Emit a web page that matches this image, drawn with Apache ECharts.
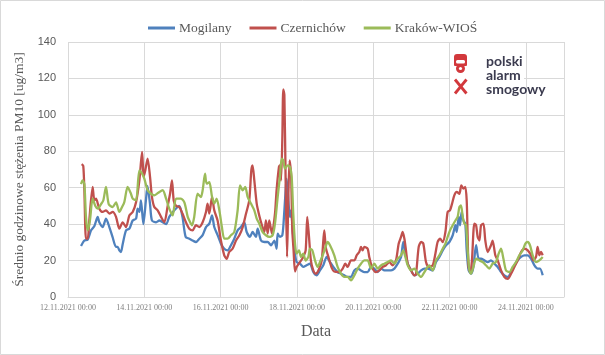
<!DOCTYPE html>
<html>
<head>
<meta charset="utf-8">
<script src="https://cdn.jsdelivr.net/npm/echarts@6/dist/echarts.min.js"></script>
<style>html,body{margin:0;padding:0;background:#fff}#c{width:605px;height:355px}</style>
</head>
<body>
<div id="c"></div>
<script>
// hours since 12.11.2021 00:00
const mogHours = [8.2,10.3,12.4,14.5,16.6,18.7,19.7,21.8,23.9,26,28,30.2,31.2,32.3,33.3,34.4,36.5,38.6,40.7,42.8,43.8,44.9,45.9,47.4,49,50,51.6,52.8,55.4,57.5,61.7,63.7,66.9,70,72,74,76.3,78.4,80.5,82.6,84.7,86.8,88.9,90.6,92,94.1,96.2,98.3,100.4,102.5,104.6,106.7,108.8,110.9,112.4,114.5,116.1,118.2,119.3,121.4,123.5,125.6,127.7,129.8,131.2,131.9,133.3,134.8,135.7,136.9,137.5,138.3,139.6,140.3,141.5,142.8,143.8,145.9,148,150.1,152.2,154.3,156.4,158.5,160.6,162.7,164.8,166.9,169.6,171.7,173.8,175.9,178,180.1,182.2,184.3,186.4,188.5,190.6,192.7,194.8,196.9,199,201.1,203.2,205.3,207.4,209.5,210.9,212.2,213.7,215.8,217.9,220,222.1,224.2,226.2,229.4,231.5,233.6,235.7,237.8,239.9,242,243.7,244.5,245.8,246.6,247.6,248.7,249.9,250.8,252,253.5,255,256.7,258.3,259.8,261.9,264,266.1,268.2,270.3,272.4,274.5,276.6,278.7,280.8,282.9,285,287.1,289.2,291.3,293.4,295.5,296.9,298.6];
const mogValues = [28,31,31.5,36.6,39,44,41,38.4,43,38.4,33,27.5,27.5,25.6,24.7,29,36.6,37.5,42,43,48.5,46.7,53,40,53,61,51,42,41,42,40,44,47.6,50,44,33,32,31,30.2,32,34,38.4,40.3,44.8,38.4,34,29.3,26.5,25.6,28.4,32,36.6,38.4,41,35.7,33,35.7,33,37.5,31,30.2,30.2,28.4,31,26.5,34.8,33,33.9,42,58.6,65,57,44,47.6,35,24,19.2,18.3,16.5,17.4,18.3,13.7,11.9,14.6,17.4,22,19.2,16.5,13.7,12.8,11.9,11,11,14.6,15.6,14.6,13.7,13.7,16.5,15.6,13.7,15.6,14.6,14.6,14.6,15.6,18.3,22,30.2,24.7,18.3,14.6,11.9,12.8,14.6,15.6,15.6,14.6,19.2,22,25.6,28.4,30.2,33.9,39.4,35.7,44,39.4,46.7,42,40.3,25.6,14.6,12.8,16.5,28.4,21,21,20.1,19.2,20.1,18.3,16.5,13.7,11.9,11,13.7,17.4,20.1,22,22.9,22.9,21,17.4,15.6,15.6,11.9];

const czeHours = [8.6,9.6,10.3,11.3,12.4,13.4,15.5,16.6,17.6,19.7,21.8,23.9,26,28.1,30.2,32.3,34.4,36.5,38.6,40.7,42.8,44.9,46.6,47.6,48.6,50.1,51.6,52.8,54.3,56.4,58.5,60.6,62.7,64.2,65.4,66.5,68,70,72,74.2,76.3,78.4,80.5,82.6,84.7,86.8,87.8,88.9,90.6,92,94.1,96.2,98.3,99.8,101.4,103.5,105.7,107.8,109.9,112,114,115.3,116.1,117.2,118.7,120.3,122,123.5,124.5,125.6,126.6,128.3,130.2,131.2,132.7,133.3,134,134.8,135.4,136.1,136.9,137.8,138.6,139.4,140.3,141.1,141.9,142.8,143.8,145.9,148,149.5,150.5,151.6,152.8,154.3,155.8,157.5,159.6,161.2,162.2,163.8,165.9,167.5,170.7,172.8,174.4,175.9,178,180.1,181.6,183.2,184.3,185.3,186.4,188.5,189.5,191.2,193.7,195.8,197.9,200,202.1,204.2,206.3,208,209.5,210.5,211.6,212.6,213.7,215.8,217.9,218.9,220.6,222.1,223.5,225.2,226.9,229.4,231.1,232.5,234,235.7,237.4,238.8,240.3,241.6,243,244.5,246.2,247.4,248.7,249.9,250.8,251.4,252,253.1,254.1,255.6,256.7,257.7,258.8,259.8,261.3,262.5,264,266.1,267.1,268.8,270.3,272.4,274.5,276.6,278.7,280.8,282.9,285,287.1,289.2,291.3,292.7,294.4,295.4,296.5,297.5,298.6];
const czeValues = [73,72,58.6,32,32,42,60.4,53,54,48.5,46.7,47.6,45.8,46.7,44,37.5,41,38.4,44.8,46.7,52,64,79.6,66,69.5,76,66,55,49.4,47.6,44,41,50,56.7,64,53,50,49.4,45.8,41,37.5,36.6,39.4,38.4,41,46.7,51.3,45.8,55,47.6,42,31,22.9,21,24.7,26.5,31,33.9,38.4,45.8,53,69.5,72.3,64,51.3,44.8,39.4,35.7,42,34.8,42,34.8,45.8,58.6,71.4,72.3,64,86,114,111,64,22,55,75,67.7,36.6,25.6,14,16.5,19.2,22,25.6,44,33,20,14.6,12.8,14.6,20,36.6,27,22,16,14,13.7,15.6,18.3,16.5,20.1,20.1,22.9,24.7,27.5,25.6,27.5,26.5,22,16.5,13.7,14.6,16.5,17.4,19.2,17.4,20.1,29.3,33,35.7,32,25.6,18.3,14.6,11.9,12.5,27.5,30.2,29.3,19.2,16.5,17.4,23.8,30.2,32,30.2,35.7,46.7,47.6,51.3,55.8,57.7,56.7,61.3,59.5,60.4,53,33,16.5,13.7,20.1,40.3,39.4,33,31,39.4,40.3,31,24.7,28.4,31,22.9,20.1,14.6,11,10,12.8,16.5,20.1,24.7,26.5,25.6,22.9,20.1,22,27.5,22.9,24.7,22.9];

const kraHours = [8.2,9.2,10.3,11.3,12.4,13.8,15.5,17.2,18.7,20.8,22.2,23.9,25.6,28.1,30.2,32.3,34,35.4,37.5,39.6,40.7,42.8,44.9,46.6,48,50.1,52.2,54.3,57.5,59.6,61.7,63.7,65.8,68,71,73.2,75.3,76.3,78,79.4,81.5,83.6,84.7,86.2,87.2,88.9,90.6,92,93.5,95.2,96.8,98.3,100.4,102.5,104.6,106.7,108.2,109.9,111.5,113,115.1,117.2,118.7,120.3,122.4,124.5,126.6,128.7,130.2,131.9,133.3,134.4,135.4,136.5,138.2,139.6,140.7,141.7,142.8,143.8,145.3,146.6,148,149.5,151.2,152.2,153.7,155.4,157,158.5,160.6,162.7,163.3,164.8,167.5,169.6,171.7,173.8,175.9,178,180.1,182.2,184.3,186.4,188.5,190.6,192.7,194.8,196.9,199,201.1,203.2,205.3,207.4,209.5,210.9,212.2,213.7,215.8,217.9,220,222.1,224.2,226.2,227.3,229.4,231.5,233.6,235.7,237.4,238.8,240.3,242,243.7,245.1,246.2,247.2,248.3,249.3,250.4,251.4,252.5,253.5,255,256.7,258.8,260.9,262.9,265,267.1,269.2,270.9,272.4,273.9,275.5,277.6,279.7,281.8,283.9,286,287.7,289.2,290.6,292.3,294.4,296.5,298.6];
const kraValues = [62,64,62,44,36.6,42,54,50,48.5,51,53,60.4,51,49.4,52,46.7,49.4,52,60.4,56.7,54,53,69.5,67.7,65,58.6,56.7,55.8,57.7,58.6,54,48.5,44.8,54,54,52,44,42,39.4,44,56.7,54.9,58.6,67.7,62.2,63,55,51.3,54,47.6,38.4,32,32,33.9,35.7,47.6,61.3,58.6,60.4,55,51.3,47.6,43,40.3,35.7,33.9,33,33.9,40.3,55,66,76,75,70.5,72.3,71.4,66,45.8,29.3,23.8,25.6,22,23.8,20,22,26.5,25.6,20,16.5,19.2,23.8,29.3,30.2,28.4,22.9,16.5,12.8,11,11,9.2,11.9,15.6,18.3,20.1,20.1,15.6,18.3,15.6,17.4,18.3,19.2,20.1,18.3,21,22.9,25.6,22,17.4,14.6,15.6,12.8,11,13.7,16.5,17.4,14.6,20.1,22.9,26.5,29.3,33,36.6,39.4,42,44,49.4,50.3,44,40.3,39.4,25.6,14.6,12.8,16.5,21,20.1,19.2,17.4,15.6,18.3,19.2,23.8,26.5,21,14.6,13.7,16.5,19.2,22.9,25.6,29.3,30.2,28.4,22.9,19.2,20.1,22];

const seriesNames = ['Mogilany', 'Czernichów', 'Kraków-WIOŚ'];
const seriesColors = ['#4F81BD', '#C0504D', '#9BBB59'];
const yTicks = {min: 0, max: 140, interval: 20};
const xTicks = {min: 0, max: 312, interval: 48};
const yAxisTitle = 'Średnio godzinowe stężenia PM10 [ug/m3]';
const xAxisTitle = 'Data';
const logoLines = ['polski', 'alarm', 'smogowy'];

function pairs(h, v) { return h.map((x, i) => [x, v[i]]); }
function fmtX(h) {
  if (h > 300) return '';
  const d = 12 + Math.round(h / 24);
  return d + '.11.2021 00:00';
}

const chart = echarts.init(document.getElementById('c'), null, {renderer: 'canvas'});
const data = [pairs(mogHours, mogValues), pairs(czeHours, czeValues), pairs(kraHours, kraValues)];
const red = '#D2383C';
const Z = 100;
chart.setOption({
  animation: false,
  backgroundColor: '#fff',
  color: seriesColors,
  grid: {left: 68, right: 41, top: 42, bottom: 58, containLabel: false},
  legend: {
    top: 16, left: 143, itemGap: 18, itemWidth: 27, itemHeight: 3, icon: 'rect',
    textStyle: {fontFamily: 'Liberation Serif', fontSize: 13.5, color: '#595959', padding: [0, 0, 0, -1]},
    data: seriesNames
  },
  xAxis: {
    type: 'value', min: xTicks.min, max: xTicks.max, interval: xTicks.interval,
    name: xAxisTitle, nameLocation: 'middle', nameGap: 27,
    nameTextStyle: {fontFamily: 'Liberation Serif', fontSize: 16, color: '#595959'},
    axisLine: {show: true, lineStyle: {color: '#d9d9d9', width: 1}},
    axisTick: {show: false},
    axisLabel: {formatter: fmtX, fontFamily: 'Liberation Serif', fontSize: 8, color: '#7f7f7f', margin: 7},
    splitLine: {show: true, lineStyle: {color: '#d9d9d9', width: 1}}
  },
  yAxis: {
    type: 'value', min: yTicks.min, max: yTicks.max, interval: yTicks.interval,
    name: yAxisTitle, nameLocation: 'middle', nameGap: 40,
    nameTextStyle: {fontFamily: 'Liberation Serif', fontSize: 13.5, color: '#595959'},
    axisLine: {show: false}, axisTick: {show: false},
    axisLabel: {fontFamily: 'Liberation Sans', fontSize: 11, color: '#595959', margin: 12},
    splitLine: {show: true, lineStyle: {color: '#d9d9d9', width: 1}}
  },
  series: seriesNames.map((n, i) => ({
    name: n, type: 'line', data: data[i], showSymbol: false, symbol: 'none', smooth: 0.25,
    lineStyle: {width: 2.3, color: seriesColors[i]}, itemStyle: {color: seriesColors[i]}
  })),
  graphic: [
    {type: 'rect', silent: true, z: Z, shape: {x: 0.5, y: 0.5, width: 604, height: 354}, style: {fill: 'none', stroke: '#d9d9d9', lineWidth: 1}},
    {type: 'rect', silent: true, z: Z, shape: {x: 450, y: 50, width: 74, height: 50}, style: {fill: '#fff'}},
    {type: 'rect', z: Z + 1, shape: {x: 454, y: 54, width: 13, height: 12, r: [3, 3, 1, 1]}, style: {fill: red}},
    {type: 'rect', z: Z + 2, shape: {x: 456, y: 60, width: 9, height: 3.5, r: 1.5}, style: {fill: '#fff'}},
    {type: 'circle', z: Z + 1, shape: {cx: 460.5, cy: 68.5, r: 4.5}, style: {fill: red}},
    {type: 'circle', z: Z + 2, shape: {cx: 460.5, cy: 68.5, r: 1.6}, style: {fill: '#fff'}},
    {type: 'line', z: Z + 1, shape: {x1: 455, y1: 79.5, x2: 466.5, y2: 93.5}, style: {stroke: red, lineWidth: 2.8}},
    {type: 'line', z: Z + 1, shape: {x1: 466.5, y1: 79.5, x2: 455, y2: 93.5}, style: {stroke: red, lineWidth: 2.8}},
    {type: 'text', z: Z + 1, style: {text: logoLines[0], x: 486, y: 61.5, font: 'bold 14px Lato', fill: '#3b3b4f', verticalAlign: 'middle'}},
    {type: 'text', z: Z + 1, style: {text: logoLines[1], x: 486, y: 75.5, font: 'bold 14px Lato', fill: '#3b3b4f', verticalAlign: 'middle'}},
    {type: 'text', z: Z + 1, style: {text: logoLines[2], x: 486, y: 89.5, font: 'bold 14px Lato', fill: '#3b3b4f', verticalAlign: 'middle'}}
  ]
});
</script>
</body>
</html>
